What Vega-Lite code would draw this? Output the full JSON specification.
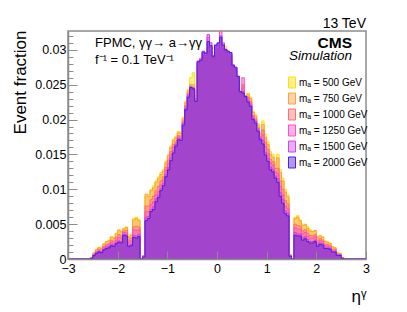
{
"$schema": "https://vega.github.io/schema/vega-lite/v6.json",
"width": 298, "height": 228,
"autosize": "none",
"padding": {"left": 68, "top": 31, "right": 41, "bottom": 53},
"background": "white",
"config": {"view": {"stroke": "#8c8c8c", "strokeWidth": 1.5}, "font": "Liberation Sans"},
"datasets": {"h": [
{"eta":-3.00,"m500":0,"m750":0,"m1000":0,"m1250":0,"m1500":0,"m2000":0},
{"eta":-2.55,"m500":0.0002,"m750":0.0002,"m1000":0.0001,"m1250":0.0001,"m1500":0.0001,"m2000":0.0001},
{"eta":-2.50,"m500":0.0009,"m750":0.0008,"m1000":0.0007,"m1250":0.0006,"m1500":0.0005,"m2000":0.0005},
{"eta":-2.45,"m500":0.0014,"m750":0.0013,"m1000":0.0011,"m1250":0.0010,"m1500":0.0009,"m2000":0.0008},
{"eta":-2.40,"m500":0.0017,"m750":0.0016,"m1000":0.0014,"m1250":0.0012,"m1500":0.0011,"m2000":0.0010},
{"eta":-2.35,"m500":0.0016,"m750":0.0015,"m1000":0.0013,"m1250":0.0011,"m1500":0.0010,"m2000":0.0009},
{"eta":-2.30,"m500":0.0022,"m750":0.0021,"m1000":0.0018,"m1250":0.0016,"m1500":0.0014,"m2000":0.0013},
{"eta":-2.25,"m500":0.0025,"m750":0.0025,"m1000":0.0021,"m1250":0.0019,"m1500":0.0017,"m2000":0.0015},
{"eta":-2.20,"m500":0.0027,"m750":0.0026,"m1000":0.0022,"m1250":0.0020,"m1500":0.0018,"m2000":0.0016},
{"eta":-2.15,"m500":0.0032,"m750":0.0031,"m1000":0.0027,"m1250":0.0024,"m1500":0.0021,"m2000":0.0019},
{"eta":-2.10,"m500":0.0031,"m750":0.0030,"m1000":0.0025,"m1250":0.0022,"m1500":0.0020,"m2000":0.0018},
{"eta":-2.05,"m500":0.0037,"m750":0.0036,"m1000":0.0031,"m1250":0.0027,"m1500":0.0024,"m2000":0.0022},
{"eta":-2.00,"m500":0.0042,"m750":0.0041,"m1000":0.0035,"m1250":0.0031,"m1500":0.0026,"m2000":0.0024},
{"eta":-1.95,"m500":0.0040,"m750":0.0039,"m1000":0.0033,"m1250":0.0030,"m1500":0.0025,"m2000":0.0023},
{"eta":-1.90,"m500":0.0044,"m750":0.0043,"m1000":0.0040,"m1250":0.0038,"m1500":0.0036,"m2000":0.0034},
{"eta":-1.85,"m500":0.0046,"m750":0.0045,"m1000":0.0041,"m1250":0.0038,"m1500":0.0035,"m2000":0.0033},
{"eta":-1.80,"m500":0.0032,"m750":0.0031,"m1000":0.0027,"m1250":0.0024,"m1500":0.0020,"m2000":0.0018},
{"eta":-1.75,"m500":0.0036,"m750":0.0034,"m1000":0.0030,"m1250":0.0026,"m1500":0.0021,"m2000":0.0019},
{"eta":-1.70,"m500":0.0058,"m750":0.0056,"m1000":0.0046,"m1250":0.0042,"m1500":0.0034,"m2000":0.0031},
{"eta":-1.65,"m500":0.0060,"m750":0.0058,"m1000":0.0047,"m1250":0.0041,"m1500":0.0033,"m2000":0.0030},
{"eta":-1.60,"m500":0.0057,"m750":0.0055,"m1000":0.0046,"m1250":0.0042,"m1500":0.0035,"m2000":0.0032},
{"eta":-1.55,"m500":0,"m750":0,"m1000":0,"m1250":0,"m1500":0,"m2000":0},
{"eta":-1.50,"m500":0.0005,"m750":0.0005,"m1000":0.0004,"m1250":0.0004,"m1500":0.0003,"m2000":0.0003},
{"eta":-1.45,"m500":0.0090,"m750":0.0093,"m1000":0.0076,"m1250":0.0068,"m1500":0.0060,"m2000":0.0055},
{"eta":-1.40,"m500":0.0092,"m750":0.0090,"m1000":0.0076,"m1250":0.0068,"m1500":0.0061,"m2000":0.0058},
{"eta":-1.35,"m500":0.0100,"m750":0.0098,"m1000":0.0085,"m1250":0.0078,"m1500":0.0071,"m2000":0.0068},
{"eta":-1.30,"m500":0.0105,"m750":0.0102,"m1000":0.0090,"m1250":0.0082,"m1500":0.0075,"m2000":0.0071},
{"eta":-1.25,"m500":0.0112,"m750":0.0110,"m1000":0.0098,"m1250":0.0092,"m1500":0.0086,"m2000":0.0082},
{"eta":-1.20,"m500":0.0118,"m750":0.0115,"m1000":0.0104,"m1250":0.0097,"m1500":0.0091,"m2000":0.0088},
{"eta":-1.15,"m500":0.0124,"m750":0.0121,"m1000":0.0112,"m1250":0.0106,"m1500":0.0101,"m2000":0.0098},
{"eta":-1.10,"m500":0.0128,"m750":0.0126,"m1000":0.0118,"m1250":0.0113,"m1500":0.0108,"m2000":0.0105},
{"eta":-1.05,"m500":0.0140,"m750":0.0138,"m1000":0.0131,"m1250":0.0127,"m1500":0.0121,"m2000":0.0118},
{"eta":-1.00,"m500":0.0150,"m750":0.0148,"m1000":0.0142,"m1250":0.0137,"m1500":0.0131,"m2000":0.0128},
{"eta":-0.95,"m500":0.0162,"m750":0.0160,"m1000":0.0154,"m1250":0.0150,"m1500":0.0145,"m2000":0.0141},
{"eta":-0.90,"m500":0.0172,"m750":0.0170,"m1000":0.0164,"m1250":0.0160,"m1500":0.0155,"m2000":0.0152},
{"eta":-0.85,"m500":0.0176,"m750":0.0174,"m1000":0.0168,"m1250":0.0165,"m1500":0.0164,"m2000":0.0162},
{"eta":-0.80,"m500":0.0183,"m750":0.0181,"m1000":0.0177,"m1250":0.0175,"m1500":0.0173,"m2000":0.0171},
{"eta":-0.75,"m500":0.0182,"m750":0.0180,"m1000":0.0176,"m1250":0.0173,"m1500":0.0172,"m2000":0.0170},
{"eta":-0.70,"m500":0.0203,"m750":0.0201,"m1000":0.0198,"m1250":0.0196,"m1500":0.0194,"m2000":0.0192},
{"eta":-0.65,"m500":0.0226,"m750":0.0224,"m1000":0.0220,"m1250":0.0218,"m1500":0.0216,"m2000":0.0214},
{"eta":-0.60,"m500":0.0243,"m750":0.0241,"m1000":0.0238,"m1250":0.0236,"m1500":0.0234,"m2000":0.0232},
{"eta":-0.55,"m500":0.0260,"m750":0.0250,"m1000":0.0248,"m1250":0.0247,"m1500":0.0246,"m2000":0.0246},
{"eta":-0.50,"m500":0.0267,"m750":0.0250,"m1000":0.0246,"m1250":0.0245,"m1500":0.0244,"m2000":0.0244},
{"eta":-0.45,"m500":0.0232,"m750":0.0235,"m1000":0.0228,"m1250":0.0230,"m1500":0.0227,"m2000":0.0226},
{"eta":-0.40,"m500":0.0270,"m750":0.0275,"m1000":0.0280,"m1250":0.0282,"m1500":0.0284,"m2000":0.0283},
{"eta":-0.35,"m500":0.0282,"m750":0.0280,"m1000":0.0284,"m1250":0.0288,"m1500":0.0286,"m2000":0.0285},
{"eta":-0.30,"m500":0.0285,"m750":0.0290,"m1000":0.0292,"m1250":0.0295,"m1500":0.0298,"m2000":0.0297},
{"eta":-0.25,"m500":0.0280,"m750":0.0284,"m1000":0.0288,"m1250":0.0292,"m1500":0.0296,"m2000":0.0295},
{"eta":-0.20,"m500":0.0290,"m750":0.0298,"m1000":0.0304,"m1250":0.0318,"m1500":0.0322,"m2000":0.0312},
{"eta":-0.15,"m500":0.0288,"m750":0.0292,"m1000":0.0298,"m1250":0.0304,"m1500":0.0310,"m2000":0.0306},
{"eta":-0.10,"m500":0.0282,"m750":0.0286,"m1000":0.0290,"m1250":0.0292,"m1500":0.0292,"m2000":0.0290},
{"eta":-0.05,"m500":0.0290,"m750":0.0296,"m1000":0.0300,"m1250":0.0304,"m1500":0.0306,"m2000":0.0307},
{"eta":0.00,"m500":0.0292,"m750":0.0298,"m1000":0.0302,"m1250":0.0306,"m1500":0.0309,"m2000":0.0310},
{"eta":0.05,"m500":0.0295,"m750":0.0300,"m1000":0.0308,"m1250":0.0326,"m1500":0.0320,"m2000":0.0318},
{"eta":0.10,"m500":0.0296,"m750":0.0300,"m1000":0.0302,"m1250":0.0306,"m1500":0.0310,"m2000":0.0307},
{"eta":0.15,"m500":0.0305,"m750":0.0298,"m1000":0.0296,"m1250":0.0300,"m1500":0.0301,"m2000":0.0300},
{"eta":0.20,"m500":0.0288,"m750":0.0290,"m1000":0.0292,"m1250":0.0296,"m1500":0.0298,"m2000":0.0298},
{"eta":0.25,"m500":0.0282,"m750":0.0286,"m1000":0.0290,"m1250":0.0293,"m1500":0.0296,"m2000":0.0296},
{"eta":0.30,"m500":0.0272,"m750":0.0274,"m1000":0.0276,"m1250":0.0278,"m1500":0.0278,"m2000":0.0278},
{"eta":0.35,"m500":0.0268,"m750":0.0270,"m1000":0.0272,"m1250":0.0274,"m1500":0.0275,"m2000":0.0275},
{"eta":0.40,"m500":0.0258,"m750":0.0260,"m1000":0.0260,"m1250":0.0262,"m1500":0.0262,"m2000":0.0262},
{"eta":0.45,"m500":0.0238,"m750":0.0240,"m1000":0.0241,"m1250":0.0240,"m1500":0.0240,"m2000":0.0240},
{"eta":0.50,"m500":0.0248,"m750":0.0245,"m1000":0.0250,"m1250":0.0260,"m1500":0.0240,"m2000":0.0238},
{"eta":0.55,"m500":0.0234,"m750":0.0233,"m1000":0.0233,"m1250":0.0234,"m1500":0.0233,"m2000":0.0233},
{"eta":0.60,"m500":0.0238,"m750":0.0236,"m1000":0.0232,"m1250":0.0230,"m1500":0.0227,"m2000":0.0225},
{"eta":0.65,"m500":0.0232,"m750":0.0230,"m1000":0.0226,"m1250":0.0223,"m1500":0.0221,"m2000":0.0219},
{"eta":0.70,"m500":0.0212,"m750":0.0210,"m1000":0.0206,"m1250":0.0204,"m1500":0.0202,"m2000":0.0200},
{"eta":0.75,"m500":0.0207,"m750":0.0205,"m1000":0.0201,"m1250":0.0199,"m1500":0.0197,"m2000":0.0195},
{"eta":0.80,"m500":0.0194,"m750":0.0192,"m1000":0.0188,"m1250":0.0187,"m1500":0.0185,"m2000":0.0183},
{"eta":0.85,"m500":0.0181,"m750":0.0180,"m1000":0.0176,"m1250":0.0174,"m1500":0.0173,"m2000":0.0171},
{"eta":0.90,"m500":0.0198,"m750":0.0193,"m1000":0.0185,"m1250":0.0178,"m1500":0.0170,"m2000":0.0165},
{"eta":0.95,"m500":0.0179,"m750":0.0174,"m1000":0.0167,"m1250":0.0161,"m1500":0.0153,"m2000":0.0149},
{"eta":1.00,"m500":0.0168,"m750":0.0164,"m1000":0.0157,"m1250":0.0151,"m1500":0.0144,"m2000":0.0140},
{"eta":1.05,"m500":0.0154,"m750":0.0150,"m1000":0.0143,"m1250":0.0138,"m1500":0.0132,"m2000":0.0128},
{"eta":1.10,"m500":0.0150,"m750":0.0146,"m1000":0.0140,"m1250":0.0135,"m1500":0.0129,"m2000":0.0125},
{"eta":1.15,"m500":0.0139,"m750":0.0136,"m1000":0.0130,"m1250":0.0125,"m1500":0.0119,"m2000":0.0116},
{"eta":1.20,"m500":0.0150,"m750":0.0145,"m1000":0.0130,"m1250":0.0122,"m1500":0.0115,"m2000":0.0110},
{"eta":1.25,"m500":0.0128,"m750":0.0124,"m1000":0.0112,"m1250":0.0104,"m1500":0.0095,"m2000":0.0090},
{"eta":1.30,"m500":0.0116,"m750":0.0112,"m1000":0.0100,"m1250":0.0092,"m1500":0.0085,"m2000":0.0080},
{"eta":1.35,"m500":0.0100,"m750":0.0096,"m1000":0.0084,"m1250":0.0076,"m1500":0.0069,"m2000":0.0065},
{"eta":1.40,"m500":0.0092,"m750":0.0089,"m1000":0.0079,"m1250":0.0072,"m1500":0.0066,"m2000":0.0062},
{"eta":1.45,"m500":0.0006,"m750":0.0006,"m1000":0.0005,"m1250":0.0005,"m1500":0.0004,"m2000":0.0004},
{"eta":1.50,"m500":0,"m750":0,"m1000":0,"m1250":0,"m1500":0,"m2000":0},
{"eta":1.55,"m500":0.0060,"m750":0.0058,"m1000":0.0050,"m1250":0.0045,"m1500":0.0038,"m2000":0.0034},
{"eta":1.60,"m500":0.0062,"m750":0.0060,"m1000":0.0048,"m1250":0.0043,"m1500":0.0036,"m2000":0.0033},
{"eta":1.65,"m500":0.0056,"m750":0.0055,"m1000":0.0047,"m1250":0.0043,"m1500":0.0036,"m2000":0.0033},
{"eta":1.70,"m500":0.0050,"m750":0.0048,"m1000":0.0040,"m1250":0.0036,"m1500":0.0030,"m2000":0.0027},
{"eta":1.75,"m500":0.0050,"m750":0.0049,"m1000":0.0042,"m1250":0.0038,"m1500":0.0032,"m2000":0.0029},
{"eta":1.80,"m500":0.0046,"m750":0.0044,"m1000":0.0037,"m1250":0.0033,"m1500":0.0028,"m2000":0.0025},
{"eta":1.85,"m500":0.0042,"m750":0.0040,"m1000":0.0034,"m1250":0.0030,"m1500":0.0025,"m2000":0.0023},
{"eta":1.90,"m500":0.0040,"m750":0.0039,"m1000":0.0033,"m1250":0.0030,"m1500":0.0025,"m2000":0.0023},
{"eta":1.95,"m500":0.0040,"m750":0.0041,"m1000":0.0035,"m1250":0.0032,"m1500":0.0027,"m2000":0.0025},
{"eta":2.00,"m500":0.0032,"m750":0.0031,"m1000":0.0026,"m1250":0.0023,"m1500":0.0020,"m2000":0.0018},
{"eta":2.05,"m500":0.0034,"m750":0.0033,"m1000":0.0029,"m1250":0.0026,"m1500":0.0023,"m2000":0.0021},
{"eta":2.10,"m500":0.0032,"m750":0.0031,"m1000":0.0027,"m1250":0.0025,"m1500":0.0022,"m2000":0.0020},
{"eta":2.15,"m500":0.0026,"m750":0.0025,"m1000":0.0021,"m1250":0.0019,"m1500":0.0017,"m2000":0.0015},
{"eta":2.20,"m500":0.0025,"m750":0.0024,"m1000":0.0021,"m1250":0.0019,"m1500":0.0017,"m2000":0.0015},
{"eta":2.25,"m500":0.0023,"m750":0.0022,"m1000":0.0019,"m1250":0.0017,"m1500":0.0015,"m2000":0.0014},
{"eta":2.30,"m500":0.0018,"m750":0.0017,"m1000":0.0014,"m1250":0.0012,"m1500":0.0011,"m2000":0.0010},
{"eta":2.35,"m500":0.0016,"m750":0.0016,"m1000":0.0014,"m1250":0.0012,"m1500":0.0011,"m2000":0.0010},
{"eta":2.40,"m500":0.0010,"m750":0.0009,"m1000":0.0007,"m1250":0.0006,"m1500":0.0006,"m2000":0.0005},
{"eta":2.45,"m500":0.0008,"m750":0.0008,"m1000":0.0007,"m1250":0.0006,"m1500":0.0006,"m2000":0.0005},
{"eta":2.50,"m500":0.0002,"m750":0.0002,"m1000":0.0001,"m1250":0.0001,"m1500":0.0001,"m2000":0.0001},
{"eta":2.55,"m500":0,"m750":0,"m1000":0,"m1250":0,"m1500":0,"m2000":0},
{"eta":3.00,"m500":0,"m750":0,"m1000":0,"m1250":0,"m1500":0,"m2000":0}
]},
"layer": [
{
 "data": {"name": "h"},
 "transform": [{"fold": ["m500","m750","m1000","m1250","m1500","m2000"], "as": ["series","frac"]}],
 "encoding": {
  "x": {"field": "eta", "type": "quantitative",
   "scale": {"domain": [-3, 3], "nice": false, "zero": false},
   "axis": {
    "tickCount": 30,
    "format": "d",
    "labelOpacity": {"condition": {"test": "abs(datum.value - round(datum.value)) < 0.01", "value": 1}, "value": 0},
    "tickSize": {"condition": {"test": "abs(datum.value - round(datum.value)) < 0.01", "value": -8}, "value": -4},
    "zindex": 1,
    "tickColor": "#8c8c8c", "domainColor": "#8c8c8c", "domainWidth": 1.5,
    "labelFontSize": 12.5, "labelColor": "black", "labelPadding": 11, "labelFlush": false, "labelOverlap": false,
    "grid": false,
    "title": "ηᵞ", "titleFontSize": 17, "titleFontWeight": "normal", "titleColor": "black",
    "titleAnchor": "end", "titleAlign": "right", "titleBaseline": "alphabetic", "titleX": 298, "titleY": 42
   }},
  "y": {"field": "frac", "type": "quantitative", "stack": null,
   "scale": {"domain": [0, 0.0327], "nice": false},
   "axis": {
    "tickCount": 33,
    "format": "~g",
    "labelOpacity": {"condition": {"test": "abs(datum.value*200 - round(datum.value*200)) < 0.01", "value": 1}, "value": 0},
    "tickSize": {"condition": {"test": "abs(datum.value*200 - round(datum.value*200)) < 0.01", "value": -9}, "value": -5},
    "zindex": 1,
    "tickColor": "#8c8c8c", "domainColor": "#8c8c8c", "domainWidth": 1.5,
    "labelFontSize": 12.5, "labelColor": "black", "labelPadding": 11, "labelFlush": false, "labelOverlap": false,
    "grid": false,
    "title": "Event fraction", "titleFontSize": 17, "titleFontWeight": "normal", "titleColor": "black",
    "titleAnchor": "end", "titleAlign": "right", "titleBaseline": "alphabetic", "titleAngle": -90, "titleX": -43, "titleY": -1
   }},
  "color": {"field": "series", "type": "nominal",
   "scale": {"domain": ["m500","m750","m1000","m1250","m1500","m2000"], "range": ["#FFE000","#FFA040","#FF7070","#FF50C8","#CC44EE","#5020E0"]},
   "legend": {"orient": "none", "legendX": 218, "legendY": 45.5, "title": null, "padding": 0,
    "labelExpr": "'mₐ = ' + substring(datum.label, 1) + ' GeV'",
    "labelFontSize": 10, "labelColor": "black", "labelOffset": 1, "rowPadding": 0,
    "symbolType": "M-0.64,-1H0.64V1H-0.64Z", "symbolSize": 121,
    "encode": {"symbols": {"update": {"fillOpacity": {"value": 0.45}, "stroke": {"scale": "color", "field": "value"}, "strokeWidth": {"value": 1}, "opacity": {"value": 1}}}}}
  }
 },
 "layer": [
  {"transform": [{"filter": "datum.series == 'm500'"}], "mark": {"type": "area", "interpolate": "step-after", "fillOpacity": 0.45, "line": {"strokeWidth": 1}}},
  {"transform": [{"filter": "datum.series == 'm750'"}], "mark": {"type": "area", "interpolate": "step-after", "fillOpacity": 0.45, "line": {"strokeWidth": 1}}},
  {"transform": [{"filter": "datum.series == 'm1000'"}], "mark": {"type": "area", "interpolate": "step-after", "fillOpacity": 0.45, "line": {"strokeWidth": 1}}},
  {"transform": [{"filter": "datum.series == 'm1250'"}], "mark": {"type": "area", "interpolate": "step-after", "fillOpacity": 0.45, "line": {"strokeWidth": 1}}},
  {"transform": [{"filter": "datum.series == 'm1500'"}], "mark": {"type": "area", "interpolate": "step-after", "fillOpacity": 0.45, "line": {"strokeWidth": 1}}},
  {"transform": [{"filter": "datum.series == 'm2000'"}], "mark": {"type": "area", "interpolate": "step-after", "fillOpacity": 0.45, "line": {"strokeWidth": 1}}}
 ]
},
{"data": {"values": [{}]}, "mark": {"type": "text", "text": "FPMC, γγ→ a→γγ", "align": "left", "baseline": "alphabetic", "fontSize": 13, "font": "Liberation Sans", "color": "black"},
 "encoding": {"x": {"datum": -2.456}, "y": {"datum": 0.03043}}},
{"data": {"values": [{}]}, "mark": {"type": "text", "text": "f⁻¹ = 0.1 TeV⁻¹", "align": "left", "baseline": "alphabetic", "fontSize": 13, "font": "Liberation Sans", "color": "black"},
 "encoding": {"x": {"datum": -2.456}, "y": {"datum": 0.02799}}},
{"data": {"values": [{}]}, "mark": {"type": "text", "text": "13 TeV", "align": "right", "baseline": "alphabetic", "fontSize": 14, "font": "Liberation Sans", "color": "black"},
 "encoding": {"x": {"datum": 3}, "y": {"datum": 0.03316}}},
{"data": {"values": [{}]}, "mark": {"type": "text", "text": "CMS", "align": "right", "baseline": "alphabetic", "fontSize": 15.5, "fontWeight": "bold", "font": "Liberation Sans", "color": "black"},
 "encoding": {"x": {"datum": 2.718}, "y": {"datum": 0.03029}}},
{"data": {"values": [{}]}, "mark": {"type": "text", "text": "Simulation", "align": "right", "baseline": "alphabetic", "fontSize": 13.5, "fontStyle": "italic", "font": "Liberation Sans", "color": "black"},
 "encoding": {"x": {"datum": 2.718}, "y": {"datum": 0.02849}}}
]
}
